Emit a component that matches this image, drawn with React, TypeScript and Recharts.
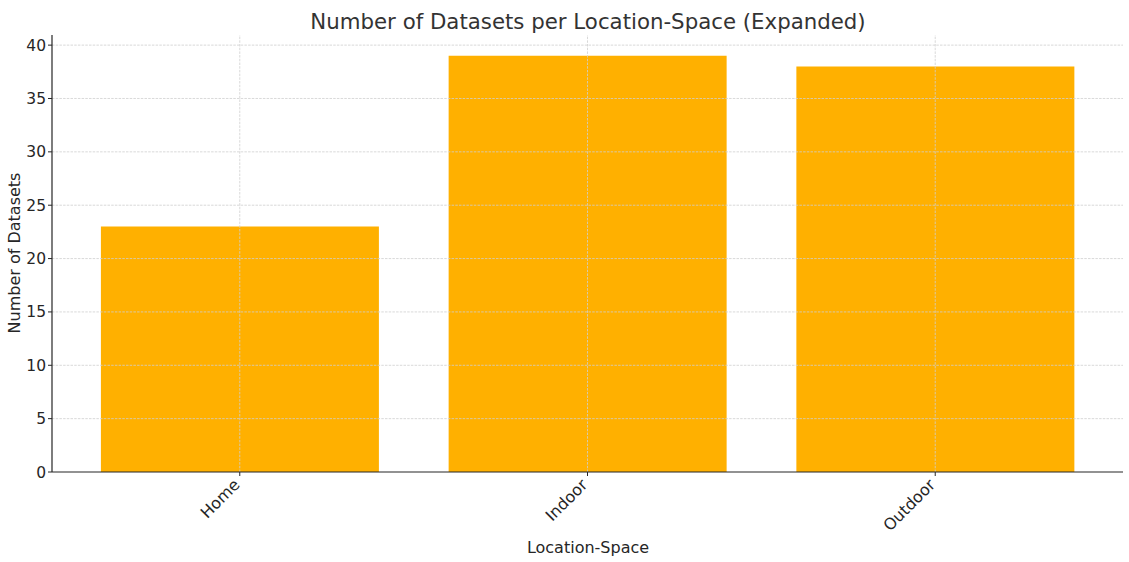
import React from "react";
import { BarChart, Bar, XAxis, YAxis, ReferenceLine } from "recharts";

const categories = ["Home", "Indoor", "Outdoor"];
const datasetCounts = [23, 39, 38];
const yTicks = [0, 5, 10, 15, 20, 25, 30, 35, 40];
const xTicks = [0, 1, 2];

const data = categories.map((c, i) => ({ idx: i, name: c, count: datasetCounts[i] }));

const FONT = "'DejaVu Sans', sans-serif";
const GRID = { stroke: "#cfcfcf", strokeDasharray: "2.5 1.2", strokeWidth: 0.8 };

const XTick = (props: any) => {
  const { x, y, payload } = props;
  return (
    <g transform={`translate(${x - 3},${y + 4})`}>
      <text
        transform="rotate(-45)"
        textAnchor="end"
        dominantBaseline="central"
        fontFamily={FONT}
        fontSize={16}
        fill="#262626"
      >
        {categories[payload.value]}
      </text>
    </g>
  );
};

export default function App() {
  return (
    <div style={{ position: "absolute", left: 0, top: 0, width: 1129, height: 562, background: "#fff" }}>
      <svg style={{ position: "absolute", left: 0, top: 0, pointerEvents: "none" }} width={1129} height={562}>
        <text x={588} y={21} textAnchor="middle" dominantBaseline="central" fontFamily={FONT} fontSize={21.3} fill="#333">
          Number of Datasets per Location-Space (Expanded)
        </text>
        <text x={588} y={547} textAnchor="middle" dominantBaseline="central" fontFamily={FONT} fontSize={16} fill="#262626">
          Location-Space
        </text>
        <text
          x={14}
          y={253}
          textAnchor="middle"
          dominantBaseline="central"
          fontFamily={FONT}
          fontSize={16}
          fill="#262626"
          transform="rotate(-90 14 253)"
        >
          Number of Datasets
        </text>
      </svg>
      <BarChart
        width={1129}
        height={562}
        data={data}
        margin={{ top: 35, right: 6, bottom: 0, left: 0 }}
      >
        <XAxis
          dataKey="idx"
          type="number"
          domain={[-0.54, 2.54]}
          ticks={xTicks}
          allowDataOverflow
          tick={<XTick />}
          tickLine={{ stroke: "#262626" }}
          tickSize={4}
          axisLine={{ stroke: "#262626", strokeWidth: 1.2 }}
          height={90}
        />
        <YAxis
          type="number"
          domain={[0, 40.95]}
          ticks={yTicks}
          allowDataOverflow
          width={52}
          tickSize={4}
          tickLine={{ stroke: "#262626" }}
          axisLine={{ stroke: "#262626", strokeWidth: 1.2 }}
          tick={{ fontFamily: FONT, fontSize: 15.5, fill: "#262626" }}
        />
        <Bar dataKey="count" fill="#FFB000" barSize={278} isAnimationActive={false} />
        {yTicks.filter((t) => t > 0).map((t) => (
          <ReferenceLine key={`h${t}`} y={t} {...GRID} />
        ))}
        {xTicks.map((t) => (
          <ReferenceLine key={`v${t}`} x={t} {...GRID} />
        ))}
      </BarChart>
    </div>
  );
}
